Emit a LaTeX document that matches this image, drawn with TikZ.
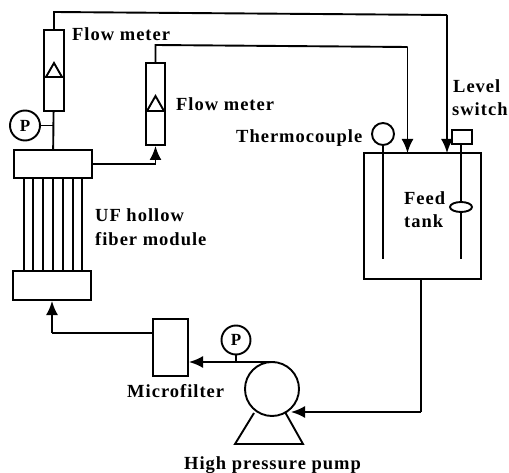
\documentclass[tikz,border=0pt]{standalone}
\usepackage{fontspec}
\setmainfont{Liberation Serif}[LetterSpace=5.4]
\usetikzlibrary{arrows.meta,shapes.geometric}
\tikzset{
  ln/.style={line width=1.9pt,black,line join=miter},
  flow/.style={ln,-{Latex[length=14pt,width=12pt]}},
  box/.style={draw,line width=2pt,fill=white,inner sep=0pt,minimum width=#1},
  gauge/.style={draw,circle,line width=1.9pt,inner sep=0pt,fill=white,minimum size=#1},
  lab/.style={font=\fontsize{18.5}{22}\selectfont\bfseries,inner sep=0pt,align=left},
  gaugetext/.style={font=\fontsize{17}{17}\selectfont\bfseries},
}
\begin{document}
\begin{tikzpicture}[x=1pt,y=-1pt]
\useasboundingbox (0,0) rectangle (509,473);
% module headers and tubes
\foreach \t in {24,33,43,53,63,73,82} \draw[ln] (\t,178) -- (\t,271);
\node[box=78pt,minimum height=28pt] (top) at (53,164) {};
\node[box=78pt,minimum height=29pt] (bot) at (52,285.5) {};
% flow meter 1
\node[box=20pt,minimum height=81pt] (fm1) at (54,70.5) {};
\draw[ln] (44,77) -- (64,77) (46,77) -- (54,63) -- (62,77);
% flow meter 2
\node[box=19pt,minimum height=82pt] (fm2) at (155.5,104) {};
\draw[ln] (146,111) -- (165,111) (147,111) -- (155.5,96) -- (164,111);
% tank
\node[box=117pt,minimum height=126pt,fill=none] (tank) at (422,216) {};
\coordinate (tc) at (383,259);
\node[gauge=22pt] (thermo) at (383,134) {};
\draw[ln] (thermo) -- (tc);
\node[box=20pt,minimum height=14pt] (ls) at (462,137) {};
\coordinate (lsb) at (461,259);
\draw[ln] (ls.south -| lsb) -- (lsb);
\node[draw,ellipse,line width=1.9pt,fill=white,minimum width=22pt,minimum height=10pt,inner sep=0pt] (fl) at (461,207) {};
% gauges
\node[gauge=30pt,gaugetext] (p1) at (25,125.5) {P};
\coordinate (j1) at (53,125.5);
\draw[ln] (p1) -- (j1);
\draw[ln] (fm1) -- (top);
% pipes
\coordinate (a1) at (54,12); \coordinate (a2) at (447,15); \coordinate (a3) at (447,153);
\draw[ln] (fm1.north) -- (a1) -- (a2);
\draw[flow] (a2) -- (a3);
\coordinate (b1) at (155.5,45); \coordinate (b2) at (407.5,47); \coordinate (b3) at (407.5,153);
\draw[ln] (fm2.north) -- (b1) -- (b2);
\draw[flow] (b2) -- (b3);
\coordinate (c1) at (155.5,164);
\draw[ln] (top.east) -- (c1);
\draw[flow] (c1) -- (fm2.south);
% pump
\node[gauge=54pt] (pump) at (272,389) {};
\coordinate (d1) at (421,279); \coordinate (d2) at (421,412);\coordinate (d3) at (291,412);
\draw[ln] (d1) -- (d2);
\draw[flow] (d2) -- (d3);
\draw[ln] (254,413) -- (235,444) -- (303,444) -- (285,412);
\node[box=35pt,minimum height=57pt] (mf) at (170.5,347.5) {};
\coordinate (e1) at (275,362);
\draw[flow] (e1) -- (mf.east |- e1);
\node[gauge=29pt,gaugetext] (p2) at (236,340) {P};
\coordinate (j2) at (236,362);
\draw[ln] (p2) -- (j2);
\coordinate (f1) at (52,333);
\draw[ln] (mf.west |- f1) -- (f1);
\draw[flow] (f1) -- (bot.south);
% labels
\node[lab,anchor=base west] (l1) at (72,41) {Flow meter};
\node[lab,anchor=base west] (l2) at (176,111) {Flow meter};
\node[lab,anchor=base west] (l3) at (236,143) {Thermocouple};
\node[lab,anchor=base west] (l4) at (453,93) {Level};
\node[lab,anchor=base west] (l5) at (452,116) {switch};
\node[lab,anchor=base west] (l6) at (404,205) {Feed};
\node[lab,anchor=base west] (l7) at (404,228) {tank};
\node[lab,anchor=base west] (l8) at (95,222) {UF hollow};
\node[lab,anchor=base west] (l9) at (95,246) {fiber module};
\node[lab,anchor=base west] (l10) at (127,397) {Microfilter};
\node[lab,anchor=base west] (l11) at (184,469) {High pressure pump};
\end{tikzpicture}
\end{document}
